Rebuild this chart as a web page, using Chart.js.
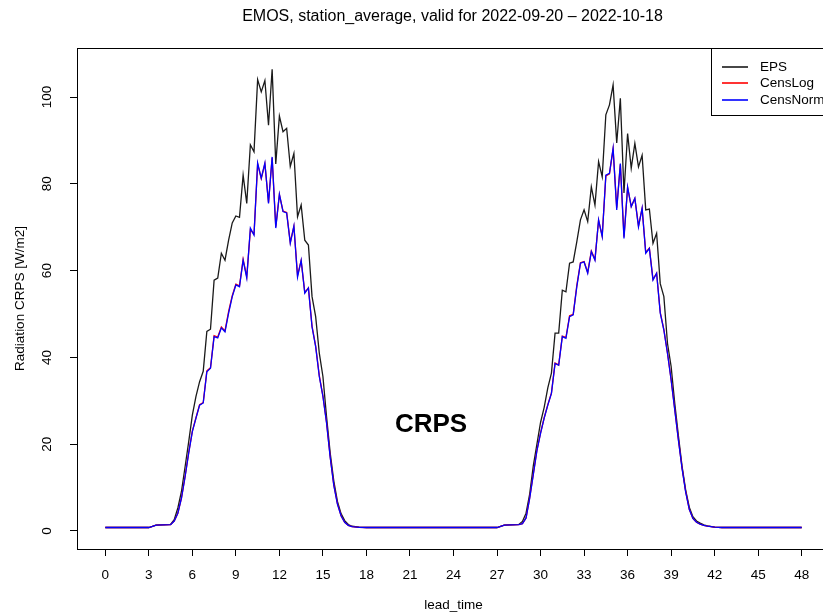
<!DOCTYPE html>
<html>
<head>
<meta charset="utf-8">
<script src="https://cdn.jsdelivr.net/npm/chart.js@4/dist/chart.umd.min.js"></script>
<style>
  html, body { margin: 0; padding: 0; background: #fff; overflow: hidden; }
  #crps_chart { display: block; }
</style>
</head>
<body>
<canvas id="crps_chart" width="831" height="615"></canvas>
<script>
// lead times in hours (15 min steps where the curves move, only the ends of flat parts)
var leadTime = [
    0, 3, 3.5, 4.5,
    4.75, 5, 5.25, 5.5, 5.75, 6, 6.25, 6.5, 6.75, 7, 7.25, 7.5, 7.75, 8, 8.25, 8.5, 8.75,
    9, 9.25, 9.5, 9.75, 10, 10.25, 10.5, 10.75, 11, 11.25, 11.5, 11.75, 12, 12.25, 12.5, 12.75,
    13, 13.25, 13.5, 13.75, 14, 14.25, 14.5, 14.75, 15, 15.25, 15.5, 15.75, 16, 16.25, 16.5, 16.75, 17,
    17.5, 18, 27, 27.5, 28.5,
    28.75, 29, 29.25, 29.5, 29.75, 30, 30.25, 30.5, 30.75, 31, 31.25, 31.5, 31.75, 32, 32.25, 32.5, 32.75,
    33, 33.25, 33.5, 33.75, 34, 34.25, 34.5, 34.75, 35, 35.25, 35.5, 35.75, 36, 36.25, 36.5, 36.75,
    37, 37.25, 37.5, 37.75, 38, 38.25, 38.5, 38.75, 39, 39.25, 39.5, 39.75, 40, 40.25, 40.5, 40.75,
    41, 41.25, 41.5,
    42, 42.5, 48
];
var eps = [
    0.8, 0.8, 1.35, 1.5,
    2.6, 5.3, 9.1, 14.8, 20.6, 26.7, 31, 34.4, 36.8, 46, 46.5, 57.8, 58.3, 64, 62.4, 67, 71,
    72.6, 72.3, 82, 75.5, 89, 87.4, 104, 101.2, 103.8, 93.5, 106.4, 84.6, 95.6, 92, 92.8, 84,
    87, 72.4, 75.1, 67, 65.9, 54, 49.4, 41, 35.6, 26.3, 18, 11.5, 6.8, 4, 2.4, 1.5, 1.1,
    0.9, 0.8, 0.8, 1.35, 1.5,
    2.2, 4.1, 8.5, 15, 20, 25, 28.5, 33, 36.4, 45.6, 45.6, 55.5, 55.1, 61.7, 62, 66.7, 71.7,
    74, 71.3, 79.3, 75.1, 85.1, 81.6, 95.9, 98.2, 102.8, 89.4, 99.7, 77.9, 91.6, 83.6, 89.3, 83.9,
    86.6, 74, 74.2, 66.3, 68.6, 57, 54, 43.2, 37.9, 29.4, 22, 15, 9.5, 5.5, 3.3, 2.3,
    1.8, 1.4, 1.2,
    0.9, 0.8, 0.8
];
var censLog = [
    0.8, 0.8, 1.35, 1.45,
    2.3, 4.1, 7.6, 12.6, 18.1, 23, 26.1, 29.1, 29.6, 36.9, 37.6, 45, 44.7, 47, 46.1, 50.6, 54.2,
    56.9, 56.5, 62.6, 58.6, 69.4, 68.4, 84.6, 81.2, 84.6, 75.7, 86, 70.1, 77.5, 73.7, 73.4, 66.5,
    70.2, 58.9, 62.3, 55, 56, 47.2, 42.6, 35.8, 31.1, 25, 17.1, 10.6, 6.3, 3.5, 2, 1.3, 1,
    0.85, 0.8, 0.8, 1.35, 1.45,
    1.7, 3, 7.6, 13.1, 18.6, 22.6, 26.1, 29.1, 31.8, 38.7, 38.3, 44.9, 44.6, 49.6, 49.9, 56.6, 61.8,
    62.1, 59.6, 64.5, 62.6, 71.6, 68, 81.8, 82.3, 88, 74.5, 84.5, 67.8, 79.1, 74.8, 76.6, 70.3,
    74.3, 64.2, 65.2, 58, 59.4, 50.4, 46.4, 41, 34.9, 28, 21.1, 14.6, 9.1, 5, 2.9, 2,
    1.6, 1.3, 1.1,
    0.9, 0.8, 0.8
];
var censNorm = [
    0.8, 0.8, 1.35, 1.45,
    2.3, 4.1, 7.6, 12.5, 18, 22.9, 26, 29, 29.5, 36.7, 37.5, 44.8, 44.5, 46.8, 45.9, 50.2, 54,
    56.7, 56.3, 62.4, 58.3, 69.8, 68.2, 84.8, 81.3, 84.8, 75.5, 86.2, 69.8, 77.6, 73.6, 73.3, 66.3,
    70.3, 58.5, 62.4, 54.8, 56, 47, 42.5, 35.6, 31, 24.9, 17, 10.5, 6.2, 3.5, 2, 1.3, 1,
    0.85, 0.8, 0.8, 1.35, 1.45,
    1.7, 3, 7.5, 13, 18.5, 22.5, 26, 29, 31.7, 38.6, 38.2, 44.8, 44.4, 49.4, 49.8, 56.3, 61.7,
    62, 59.4, 64.4, 62.4, 71.7, 67.8, 82, 82.4, 88.2, 74, 84.7, 67.4, 79.3, 74.7, 76.7, 70.1,
    74.4, 64, 65.1, 57.8, 59.4, 50.2, 46.3, 40.9, 34.8, 27.9, 21, 14.5, 9, 5, 2.9, 2,
    1.6, 1.3, 1.1,
    0.9, 0.8, 0.8
];
var xTickLabels = [0, 3, 6, 9, 12, 15, 18, 21, 24, 27, 30, 33, 36, 39, 42, 45, 48];
var yTickLabels = [0, 20, 40, 60, 80, 100];
var seriesNames = ['EPS', 'CensLog', 'CensNorm'];
var seriesColors = ['#1a1a1a', '#ff0000', '#0000ff'];

var titleText = 'EMOS, station_average, valid for 2022-09-20 \u2013 2022-10-18';
var fontFamily = '"Liberation Sans", Arial, Helvetica, sans-serif';

CrpsChart = {
    toPoints(values) {
        return leadTime.map(function (t, i) { return { x: t, y: values[i] }; });
    },
    // box, rotated y labels, titles, legend and the CRPS tag, R style
    decorations: {
        id: 'decorations',
        afterDraw(chart) {
            var ctx = chart.ctx;
            var area = chart.chartArea;
            var yScale = chart.scales.y;
            ctx.save();
            ctx.strokeStyle = '#000';
            ctx.lineWidth = 1;
            ctx.strokeRect(area.left + 0.5, area.top + 0.5, area.right - area.left, area.bottom - area.top);

            ctx.fillStyle = '#000';
            ctx.textAlign = 'center';
            ctx.textBaseline = 'middle';
            ctx.font = '13.5px ' + fontFamily;
            for (var v of yTickLabels) {
                ctx.save();
                ctx.translate(47, yScale.getPixelForValue(v));
                ctx.rotate(-Math.PI / 2);
                ctx.fillText(String(v), 0, 0);
                ctx.restore();
            }
            ctx.save();
            ctx.translate(20, (area.top + area.bottom) / 2);
            ctx.rotate(-Math.PI / 2);
            ctx.fillText('Radiation CRPS [W/m2]', 0, 0);
            ctx.restore();
            ctx.fillText('lead_time', (area.left + area.right) / 2, 605);

            ctx.font = '16px ' + fontFamily;
            ctx.fillText(titleText, (area.left + area.right) / 2 - 1, 17);

            ctx.font = 'bold 26px ' + fontFamily;
            ctx.fillText('CRPS', chart.scales.x.getPixelForValue(22.45), yScale.getPixelForValue(24.5));

            // legend, top right corner of the box
            var lx = 711, ly = area.top, lw = area.right - 711, lh = 67;
            ctx.fillStyle = '#fff';
            ctx.fillRect(lx, ly, lw, lh);
            ctx.strokeStyle = '#000';
            ctx.lineWidth = 1;
            ctx.strokeRect(lx + 0.5, ly + 0.5, lw, lh);
            ctx.font = '13.5px ' + fontFamily;
            ctx.textAlign = 'left';
            var rows = [19, 35, 52];
            for (var i = 0; i < seriesNames.length; i++) {
                var rowY = ly + rows[i];
                ctx.strokeStyle = seriesColors[i];
                ctx.lineWidth = 1.6;
                ctx.beginPath();
                ctx.moveTo(722, rowY);
                ctx.lineTo(748, rowY);
                ctx.stroke();
                ctx.fillStyle = '#000';
                ctx.fillText(seriesNames[i], 760, rowY);
            }
            ctx.restore();
        }
    },
    init() {
        var ctx = document.getElementById('crps_chart').getContext('2d');
        var values = [eps, censLog, censNorm];
        var datasets = [];
        for (var i = 0; i < seriesNames.length; i++) {
            datasets.push({
                label: seriesNames[i],
                data: CrpsChart.toPoints(values[i]),
                borderColor: seriesColors[i],
                borderWidth: 1.3,
                pointRadius: 0,
                tension: 0,
                fill: false,
                order: seriesNames.length - 1 - i   // blue drawn last, on top
            });
        }
        new Chart(ctx, {
            type: 'line',
            data: { datasets: datasets },
            plugins: [CrpsChart.decorations],
            options: {
                responsive: false,
                animation: false,
                devicePixelRatio: 1,
                layout: { padding: { top: 48, right: 1, left: 0, bottom: 0 } },
                plugins: {
                    legend: { display: false },
                    tooltip: { enabled: false }
                },
                scales: {
                    x: {
                        type: 'linear',
                        min: -1.95,
                        max: 49.95,
                        afterBuildTicks(scale) {
                            scale.ticks = xTickLabels.map(function (v) { return { value: v }; });
                        },
                        afterFit(scale) { scale.height = 66; },
                        border: { display: false },
                        grid: { drawOnChartArea: false, drawTicks: true, tickLength: 7, color: '#000' },
                        ticks: {
                            autoSkip: false,
                            maxRotation: 0,
                            padding: 11,
                            color: '#000',
                            font: { family: fontFamily, size: 13.5 }
                        }
                    },
                    y: {
                        min: -4.15,
                        max: 111.3,
                        afterBuildTicks(scale) {
                            scale.ticks = yTickLabels.map(function (v) { return { value: v }; });
                        },
                        afterFit(scale) { scale.width = 77; },
                        border: { display: false },
                        grid: { drawOnChartArea: false, drawTicks: true, tickLength: 7, color: '#000' },
                        ticks: { display: false }
                    }
                }
            }
        });
    }
};

CrpsChart.init();
</script>
</body>
</html>
